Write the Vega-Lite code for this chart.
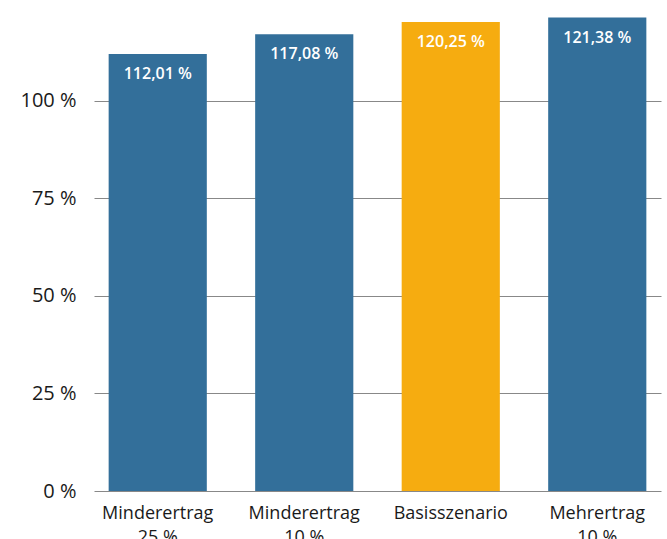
{
  "$schema": "https://vega.github.io/schema/vega-lite/v6.json",
  "width": 567,
  "height": 479,
  "autosize": {"type": "none"},
  "padding": {"left": 94, "top": 12, "right": 6, "bottom": 48},
  "background": "white",
  "config": {
    "view": {"stroke": null},
    "font": "Open Sans",
    "axis": {"labelFont": "Open Sans", "labelColor": "#1a1a1a"}
  },
  "data": {
    "values": [
      {"szenario": "Minderertrag\n25 %", "wert": 112.01, "label": "112,01 %"},
      {"szenario": "Minderertrag\n10 %", "wert": 117.08, "label": "117,08 %"},
      {"szenario": "Basisszenario", "wert": 120.25, "label": "120,25 %"},
      {"szenario": "Mehrertrag\n10 %", "wert": 121.38, "label": "121,38 %"}
    ]
  },
  "encoding": {
    "x": {
      "field": "szenario",
      "type": "nominal",
      "sort": null,
      "scale": {"paddingInner": 0.33, "paddingOuter": 0.1},
      "axis": {
        "title": null,
        "labelAngle": 0,
        "domain": false,
        "ticks": false,
        "labelFontSize": 18,
        "labelPadding": 13,
        "labelLineHeight": 24,
        "labelExpr": "split(datum.label, '\\n')"
      }
    },
    "y": {
      "field": "wert",
      "type": "quantitative",
      "scale": {"domain": [0, 122.8], "nice": false},
      "axis": {
        "title": null,
        "values": [0, 25, 50, 75, 100],
        "domain": false,
        "ticks": false,
        "labelFontSize": 20,
        "labelPadding": 18,
        "labelExpr": "datum.value + ' %'",
        "gridColor": "#888888",
        "gridWidth": 1
      }
    }
  },
  "layer": [
    {
      "mark": {"type": "bar"},
      "encoding": {
        "color": {
          "field": "szenario",
          "type": "nominal",
          "sort": null,
          "scale": {"range": ["#336f9a", "#336f9a", "#f6ac10", "#336f9a"]},
          "legend": null
        }
      }
    },
    {
      "mark": {"type": "text", "dy": 20, "color": "white", "fontSize": 16, "fontWeight": 600, "baseline": "middle", "font": "Open Sans"},
      "encoding": {"text": {"field": "label"}}
    }
  ]
}
